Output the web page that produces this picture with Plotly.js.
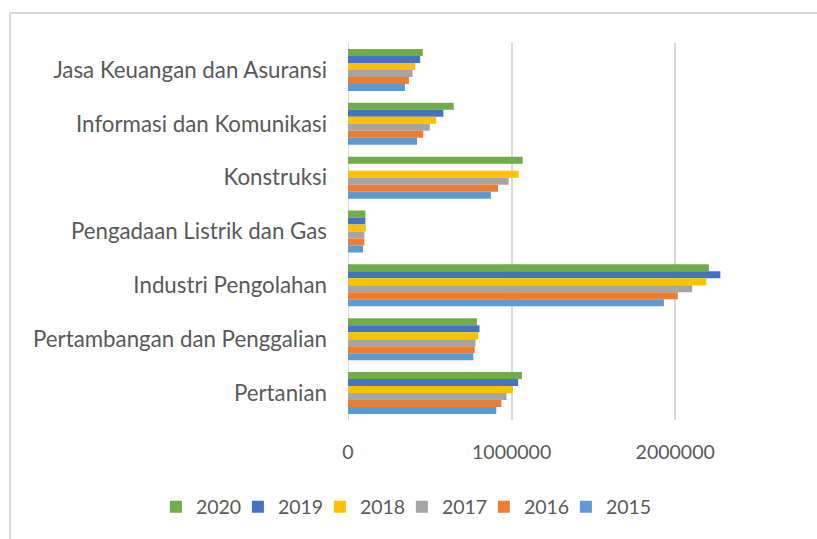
<!DOCTYPE html>
<html>
<head>
<meta charset="utf-8">
<script src="https://cdn.plot.ly/plotly-3.0.1.min.js"></script>
<style>
  html, body { margin: 0; padding: 0; background: #fff; }
  #chart { width: 817px; height: 539px; position: relative; }
  #frame { position: absolute; left: 9px; top: 12px; width: 820px; height: 540px;
           border-left: 2px solid #d9d9d9; border-top: 2px solid #d9d9d9; pointer-events: none; }
</style>
</head>
<body>
<div id="chart"></div>
<div id="frame"></div>
<script>
// Categories (top to bottom in the chart)
const categories = [
  "Jasa Keuangan dan Asuransi",
  "Informasi dan Komunikasi",
  "Konstruksi",
  "Pengadaan Listrik dan Gas",
  "Industri Pengolahan",
  "Pertambangan dan Penggalian",
  "Pertanian"
];
// Series listed in legend order (top bar of each group first)
const years = ["2020", "2019", "2018", "2017", "2016", "2015"];
const v2020 = [457000, 646000, 1068000, 106000, 2206000, 788000, 1063000];
const v2019 = [441000, 583000, null, 106000, 2276000, 804000, 1040000];
const v2018 = [411000, 539000, 1043000, 109000, 2190000, 796000, 1008000];
const v2017 = [394000, 500000, 982000, 100000, 2104000, 780000, 969000];
const v2016 = [372000, 460000, 917000, 100000, 2016000, 774000, 938000];
const v2015 = [348000, 422000, 873000, 92000, 1931000, 766000, 906000];
const seriesValues = [v2020, v2019, v2018, v2017, v2016, v2015];
const colors = ["#70AD47", "#4472C4", "#FFC000", "#A5A5A5", "#ED7D31", "#5B9BD5"];
const xTicks = [0, 1000000, 2000000];
const xTickLabels = ["0", "1000000", "2000000"];

const FONT = "Lato, 'Open Sans', sans-serif";

const traces = years.map((y, i) => ({
  type: "bar",
  orientation: "h",
  name: y,
  y: categories,
  x: seriesValues[i],
  marker: { color: colors[i], line: { width: 0 } },
  legendwidth: (i === years.length - 1) ? 52 : 37,
  hoverinfo: "x+name"
}));

const layout = {
  width: 817,
  height: 539,
  margin: { l: 347.5, r: 59.5, t: 43, b: 119, autoexpand: false },
  paper_bgcolor: "#ffffff",
  plot_bgcolor: "#ffffff",
  barmode: "group",
  bargap: 0.22,
  bargroupgap: 0,
  font: { family: FONT, color: "#595959", size: 19.5 },
  xaxis: {
    range: [0, 2500000],
    tickvals: xTicks,
    ticktext: xTickLabels,
    showgrid: true,
    gridcolor: "#d9d9d9",
    gridwidth: 2,
    zeroline: false,
    showline: false,
    ticks: "",
    ticklabelstandoff: 18,
    tickfont: { family: FONT, size: 19.5, color: "#595959" },
    fixedrange: true
  },
  yaxis: {
    type: "category",
    autorange: "reversed",
    showgrid: false,
    zeroline: false,
    showline: false,
    ticks: "",
    ticklabelstandoff: 20,
    tickfont: { family: FONT, size: 22.3, color: "#595959" },
    fixedrange: true
  },
  shapes: [{
    type: "line", xref: "x", yref: "paper",
    x0: 0, x1: 0, y0: 0, y1: 1,
    line: { color: "#d9d9d9", width: 2 }, layer: "below"
  }],
  showlegend: true,
  legend: {
    orientation: "h",
    traceorder: "normal",
    xref: "paper", yref: "paper",
    x: (155 - 347.5) / 409.8, xanchor: "left",
    y: (420 - 507) / 377, yanchor: "middle",
    font: { family: FONT, size: 19.5, color: "#595959" },
    bgcolor: "rgba(0,0,0,0)",
    itemwidth: 30,
    entrywidth: 37,
    entrywidthmode: "pixels"
  }
};

Plotly.newPlot("chart", traces, layout, { displayModeBar: false, staticPlot: true });
</script>
</body>
</html>
